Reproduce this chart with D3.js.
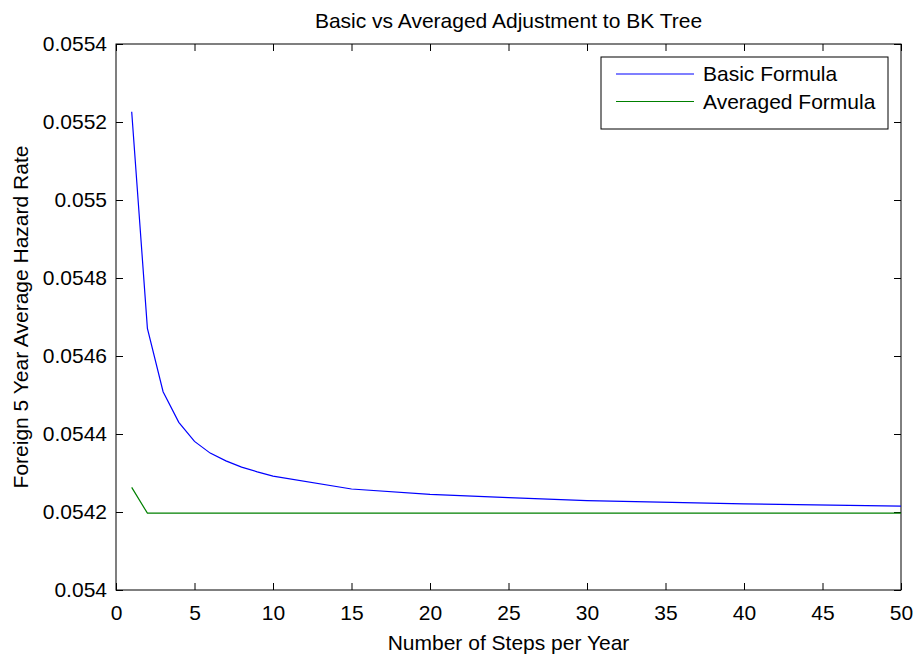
<!DOCTYPE html>
<html>
<head>
<meta charset="utf-8">
<script src="https://cdn.jsdelivr.net/npm/d3@7"></script>
<style>
  body { margin: 0; background: #fff; }
  text { font-family: "Liberation Sans", Arial, Helvetica, sans-serif; }
</style>
</head>
<body>
<div id="chart"></div>
<script>
// steps per year and the two hazard rate series
var steps = [1, 2, 3, 4, 5, 6, 7, 8, 9, 10, 15, 20, 25, 30, 40, 50];
var basic = [0.0552264, 0.054671, 0.0545085, 0.05443, 0.054381, 0.054351, 0.054331, 0.054315,
             0.054303, 0.054292, 0.054259, 0.054245, 0.054237, 0.054229, 0.054221, 0.054215];
var averaged = [0.054263, 0.054197, 0.054197, 0.054197, 0.054197, 0.054197, 0.054197, 0.054197,
                0.054197, 0.054197, 0.054197, 0.054197, 0.054197, 0.054197, 0.054197, 0.054197];
var xTicks = [0, 5, 10, 15, 20, 25, 30, 35, 40, 45, 50];
var yTicks = [0.054, 0.0542, 0.0544, 0.0546, 0.0548, 0.055, 0.0552, 0.0554];
var seriesNames = ["Basic Formula", "Averaged Formula"];

var width = 917, height = 655;
var margin = {top: 44, right: 16, bottom: 65, left: 116};
var iw = width - margin.left - margin.right,
    ih = height - margin.top - margin.bottom;
var fontSize = "21px";

var color = d3.scaleOrdinal().domain(seriesNames).range(["#0000ff", "#008000"]);

var svg = d3.select("#chart").append("svg")
  .attr("width", width)
  .attr("height", height);

var g = svg.append("g")
  .attr("transform", "translate(" + margin.left + "," + margin.top + ")");

var x = d3.scaleLinear().domain([0, 50]).range([0, iw]);
var y = d3.scaleLinear().domain([0.054, 0.0554]).range([ih, 0]);

// axes, matlab style: ticks pointing in on all four sides
function styleAxis(sel) {
  sel.select(".domain").remove();
  sel.selectAll(".tick line").attr("stroke", "#000");
  sel.selectAll("text").attr("fill", "#000").style("font-size", fontSize);
}

g.append("g")
  .attr("transform", "translate(0," + ih + ")")
  .call(d3.axisBottom(x).tickValues(xTicks).tickSizeInner(-7).tickPadding(15).tickFormat(d3.format("d")))
  .call(styleAxis);

g.append("g")
  .call(d3.axisTop(x).tickValues(xTicks).tickSizeInner(-7).tickFormat(""))
  .call(styleAxis);

g.append("g")
  .call(d3.axisLeft(y).tickValues(yTicks).tickSizeInner(-7).tickPadding(9).tickFormat(function(d){ return String(+d.toFixed(4)); }))
  .call(styleAxis);

g.append("g")
  .attr("transform", "translate(" + iw + ",0)")
  .call(d3.axisRight(y).tickValues(yTicks).tickSizeInner(-7).tickFormat(""))
  .call(styleAxis);

g.append("rect")
  .attr("width", iw)
  .attr("height", ih)
  .attr("fill", "none")
  .attr("stroke", "#000")
  .attr("stroke-width", 1);

var line = d3.line()
  .x(function(d) { return x(d[0]); })
  .y(function(d) { return y(d[1]); });

var series = [
  {name: seriesNames[0], values: d3.zip(steps, basic)},
  {name: seriesNames[1], values: d3.zip(steps, averaged)}
];

g.selectAll(".series")
  .data(series)
  .enter().append("path")
  .attr("class", "series")
  .attr("d", function(d) { return line(d.values); })
  .attr("fill", "none")
  .attr("stroke", function(d) { return color(d.name); })
  .attr("stroke-width", 1.2);

// legend
var leg = svg.append("g").attr("transform", "translate(601,57)");
leg.append("rect")
  .attr("width", 287)
  .attr("height", 72)
  .attr("fill", "#fff")
  .attr("stroke", "#000");

var items = leg.selectAll(".item")
  .data(seriesNames)
  .enter().append("g")
  .attr("class", "item")
  .attr("transform", function(d, i) { return "translate(0," + (17 + i * 27.5) + ")"; });

items.append("line")
  .attr("x1", 15).attr("x2", 93)
  .attr("stroke", function(d) { return color(d); })
  .attr("stroke-width", 1.2);

items.append("text")
  .attr("x", 102)
  .attr("dy", "0.35em")
  .style("font-size", fontSize)
  .text(function(d) { return d; });

// titles
svg.append("text")
  .attr("x", margin.left + iw / 2)
  .attr("y", 28)
  .attr("text-anchor", "middle")
  .style("font-size", fontSize)
  .text("Basic vs Averaged Adjustment to BK Tree");

svg.append("text")
  .attr("x", margin.left + iw / 2)
  .attr("y", 650)
  .attr("text-anchor", "middle")
  .style("font-size", fontSize)
  .text("Number of Steps per Year");

svg.append("text")
  .attr("transform", "translate(28," + (margin.top + ih / 2) + ") rotate(-90)")
  .attr("text-anchor", "middle")
  .style("font-size", fontSize)
  .text("Foreign 5 Year Average Hazard Rate");
</script>
</body>
</html>
